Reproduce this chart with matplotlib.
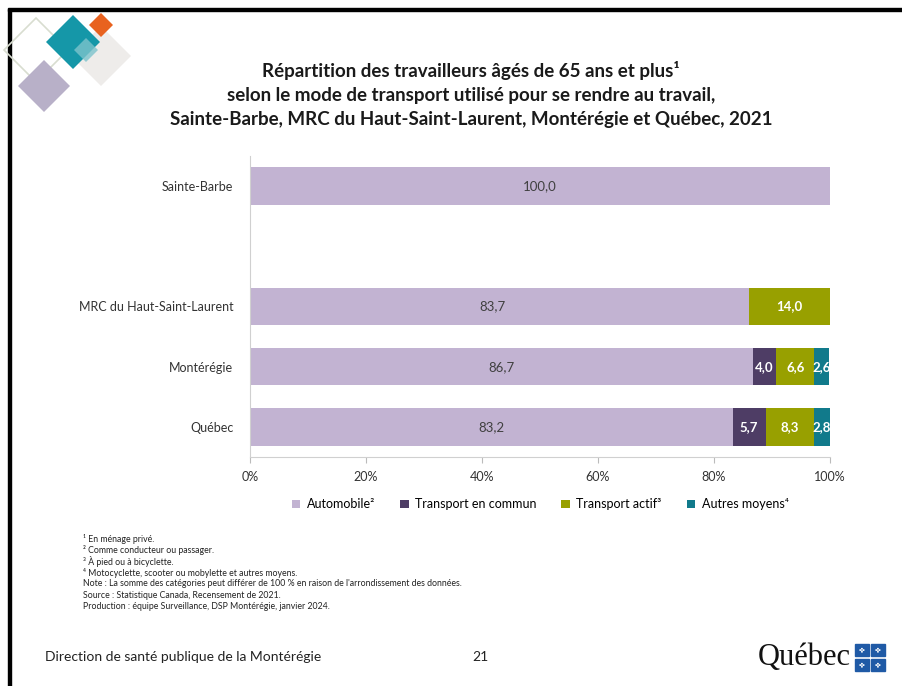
import numpy as np
import matplotlib.pyplot as plt
from matplotlib.patches import Polygon, Rectangle

plt.rcParams['font.family'] = ['Lato', 'DejaVu Sans']

# Data
regions = ["Québec", "Montérégie", "MRC du Haut-Saint-Laurent", "", "Sainte-Barbe"]
auto = [83.2, 86.7, 83.7, 0, 100.0]
commun = [5.7, 4.0, 0, 0, 0]
actif = [8.3, 6.6, 14.0, 0, 0]
autres = [2.8, 2.6, 0, 0, 0]
# MRC: part not shown separately (drawn in the automobile colour, no label)
hidden = [0, 0, 2.3, 0, 0]

series = ["Automobile²", "Transport en commun", "Transport actif³", "Autres moyens⁴"]
colors = ["#C2B3D2", "#4E3D65", "#98A000", "#117A8B"]
ticks = [0, 20, 40, 60, 80, 100]

W, H = 902, 686
fig = plt.figure(figsize=(W / 100, H / 100), dpi=100)

def px(x, y):
    return x / W, 1 - y / H

# slide frame (left and top)
fig.add_artist(Rectangle(px(8, 686), 3 / W, 677 / H, transform=fig.transFigure, color="black"))
fig.add_artist(Rectangle(px(8, 11), 894 / W, 3 / H, transform=fig.transFigure, color="black"))

# decorative diamonds
def diamond(cx, cy, r, **kw):
    pts = [px(cx, cy - r), px(cx + r, cy), px(cx, cy + r), px(cx - r, cy)]
    fig.add_artist(Polygon(pts, closed=True, transform=fig.transFigure, **kw))

diamond(36, 50, 32, facecolor="none", edgecolor="#D8DDD0", lw=1.2)
diamond(101, 56, 30, facecolor="#EEECEA", edgecolor="none")
diamond(73, 42, 27, facecolor="#1597A8", edgecolor="none")
diamond(101, 25, 12, facecolor="#E8621F", edgecolor="none")
diamond(86, 50, 12, facecolor="#7CC3CC", edgecolor="none", alpha=0.8)
diamond(44, 86, 26, facecolor="#B8B0C8", edgecolor="none")

# title
title = ["Répartition des travailleurs âgés de 65 ans et plus¹",
         "selon le mode de transport utilisé pour se rendre au travail,",
         "Sainte-Barbe, MRC du Haut-Saint-Laurent, Montérégie et Québec, 2021"]
for i, line in enumerate(title):
    fig.text(*px(471, 70 + i * 25), line, ha="center", va="center",
             fontsize=13.5, fontweight="bold", color="#1a1a1a")

ax = fig.add_axes([250 / W, 1 - 457 / H, 580 / W, 301 / H])
y = np.arange(len(regions))
h = 0.62

left_after_auto = np.array(auto) + np.array(hidden)
ax.barh(y, auto, h, color=colors[0], label=series[0])
ax.barh(y, hidden, h, left=auto, color=colors[0])
left = left_after_auto.copy()
for vals, col, lab in zip([commun, actif, autres], colors[1:], series[1:]):
    ax.barh(y, vals, h, left=left, color=col, label=lab)
    left = left + np.array(vals)

# value labels
def put_labels(vals, starts, col, weight):
    for yi, v, s in zip(y, vals, starts):
        if v > 0:
            ax.text(s + v / 2, yi, f"{v:.1f}".replace(".", ","), ha="center", va="center",
                    color=col, fontsize=9.5, fontweight=weight)

put_labels(auto, np.zeros(len(y)), "#404040", "normal")
starts = left_after_auto.copy()
for vals in [commun, actif, autres]:
    put_labels(vals, starts, "white", "bold")
    starts = starts + np.array(vals)

ax.set_xlim(0, 100)
ax.set_ylim(-0.5, len(regions) - 0.5)
ax.set_xticks(ticks)
ax.set_xticklabels([f"{t}%" for t in ticks], fontsize=9, color="#333333")
ax.set_yticks(y)
ax.set_yticklabels(regions, fontsize=9, color="#333333")
ax.tick_params(axis="y", length=0, pad=12)
ax.tick_params(axis="x", length=4, color="#BBBBBB", pad=6)
for s in ["top", "right"]:
    ax.spines[s].set_visible(False)
for s in ["left", "bottom"]:
    ax.spines[s].set_color("#D0D0D0")

ax.legend(loc="upper center", bbox_to_anchor=(0.5, -0.1), ncol=4, frameon=False,
          fontsize=9, handlelength=0.7, handleheight=0.7, columnspacing=2.0, handletextpad=0.5)

# footnotes
notes = ["¹ En ménage privé.",
         "² Comme conducteur ou passager.",
         "³ À pied ou à bicyclette.",
         "⁴ Motocyclette, scooter ou mobylette et autres moyens.",
         "Note : La somme des catégories peut différer de 100 % en raison de l'arrondissement des données.",
         "Source : Statistique Canada, Recensement de 2021.",
         "Production : équipe Surveillance, DSP Montérégie, janvier 2024."]
for i, n in enumerate(notes):
    fig.text(*px(83, 539 + i * 11.2), n, ha="left", va="center", fontsize=6.3, color="#222222")

# footer
fig.text(*px(45, 657), "Direction de santé publique de la Montérégie", ha="left", va="center",
         fontsize=10, color="#222222")
fig.text(*px(480, 657), "21", ha="center", va="center", fontsize=10, color="#222222")
fig.text(*px(851, 658), "Québec", ha="right", va="center", fontsize=22,
         family=["Liberation Serif", "DejaVu Serif"], color="#111111")
for (bx, by) in [(855, 644), (871, 644), (855, 659), (871, 659)]:
    fig.add_artist(Rectangle(px(bx, by + 12), 14 / W, 12 / H, transform=fig.transFigure,
                             color="#1F5AA6"))
    fig.text(*px(bx + 7, by + 6), "✤", ha="center", va="center", fontsize=5, color="white")

fig.savefig("out.png", dpi=100)
